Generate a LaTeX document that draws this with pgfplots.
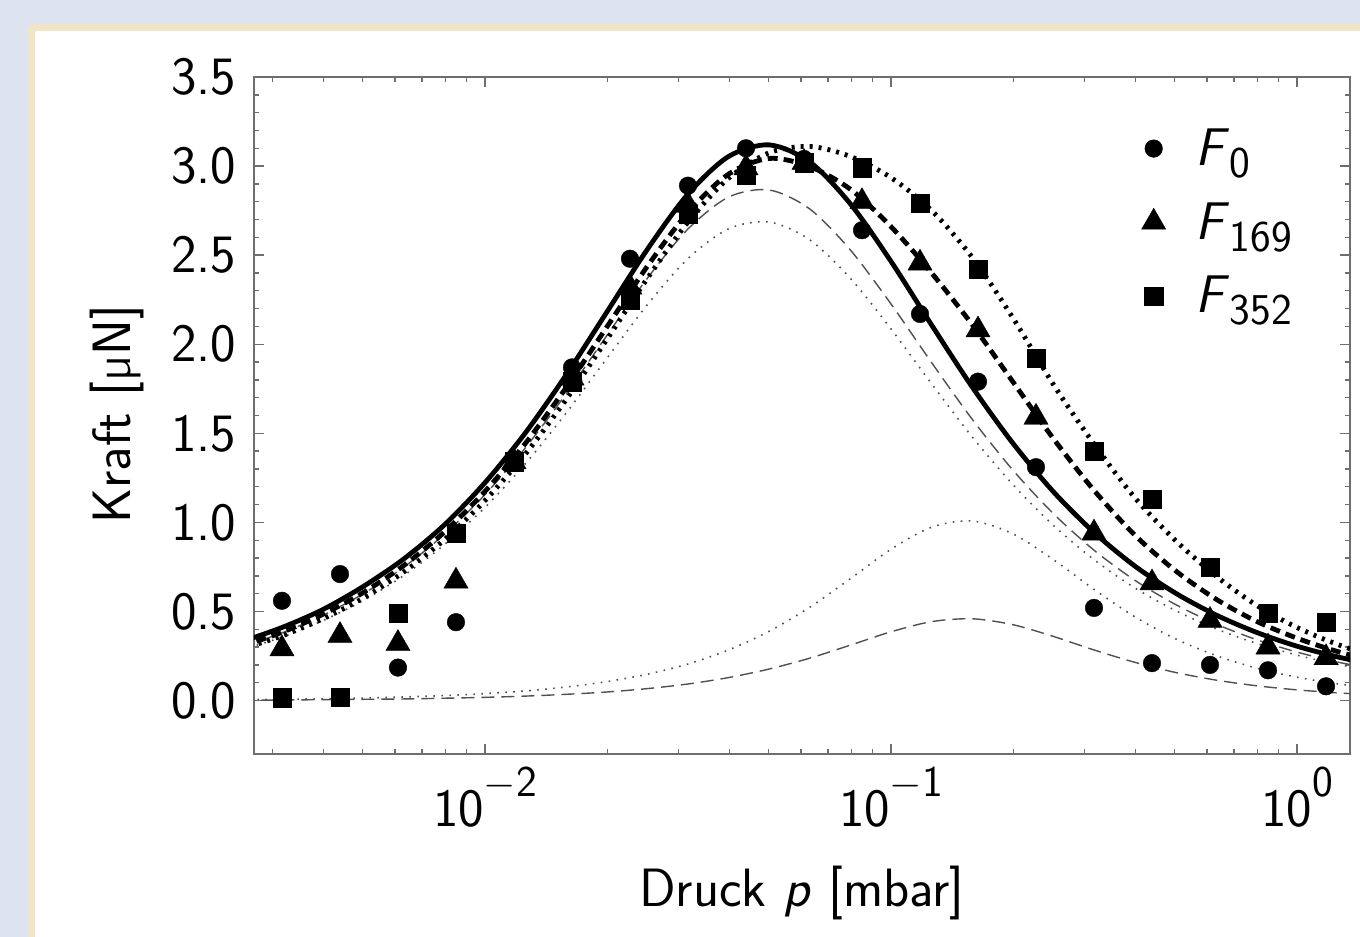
\documentclass[border=0pt]{standalone}
\usepackage{fontspec}
\usepackage{pgfplots}
\usepackage{pgfplotstable}
\pgfplotsset{compat=1.18}
\renewcommand{\familydefault}{\sfdefault}

\definecolor{bgblue}{HTML}{DEE3F0}
\definecolor{framebeige}{HTML}{F0E5C4}
\definecolor{axgray}{HTML}{6E6E6E}
\definecolor{thingray}{HTML}{505050}

% measured points, F in uN
\pgfplotstableread{
p         f0     f169   f352
0.003162  0.56   0.29   0.017
0.004394  0.71   0.365  0.02
0.006105  0.185  0.32   0.49
0.008483  0.44   0.67   0.94
0.011788  1.35   1.34   1.34
0.016379  1.87   1.81   1.79
0.022758  2.48   2.32   2.25
0.031623  2.89   2.78   2.73
0.043940  3.10   2.99   2.95
0.061054  3.04   3.02   3.02
0.084834  2.64   2.80   2.99
0.117877  2.17   2.455  2.79
0.163789  1.79   2.08   2.42
0.227585  1.31   1.59   1.92
0.316228  0.52   0.94   1.40
0.439397  0.21   0.66   1.13
0.610540  0.20   0.45   0.75
0.848343  0.17   0.30   0.49
1.178769  0.08   0.24   0.44
}\points

% fitted curves
\pgfplotstableread{
p          S      D      T      Dt     Tt     Dl     Tl
0.0025119  0.330  0.304  0.289  0.302  0.284  0.002  0.005
0.0031623  0.410  0.383  0.363  0.380  0.356  0.003  0.007
0.0039811  0.510  0.483  0.458  0.478  0.448  0.005  0.010
0.0050119  0.640  0.606  0.575  0.599  0.561  0.007  0.014
0.0063096  0.795  0.758  0.722  0.749  0.702  0.009  0.020
0.0079433  0.986  0.946  0.903  0.933  0.875  0.013  0.028
0.01       1.223  1.174  1.123  1.156  1.084  0.018  0.039
0.012589   1.504  1.445  1.385  1.420  1.331  0.025  0.054
0.015849   1.828  1.757  1.690  1.722  1.614  0.035  0.076
0.019953   2.180  2.096  2.026  2.048  1.920  0.048  0.106
0.025119   2.533  2.438  2.370  2.371  2.222  0.067  0.148
0.031623   2.843  2.740  2.686  2.647  2.481  0.093  0.205
0.039811   3.054  2.955  2.932  2.826  2.648  0.129  0.284
0.050119   3.119  3.043  3.075  2.866  2.686  0.177  0.389
0.063096   3.023  2.997  3.110  2.759  2.586  0.238  0.524
0.079433   2.788  2.870  3.054  2.529  2.370  0.311  0.684
0.1        2.465  2.660  2.935  2.226  2.086  0.386  0.849
0.12589    2.108  2.400  2.751  1.897  1.778  0.443  0.973
0.15849    1.760  2.110  2.488  1.579  1.480  0.459  1.008
0.19953    1.445  1.790  2.149  1.294  1.213  0.426  0.936
0.25119    1.172  1.470  1.774  1.049  0.983  0.360  0.791
0.31623    0.944  1.180  1.440  0.844  0.791  0.284  0.624
0.39811    0.756  0.930  1.140  0.676  0.633  0.215  0.471
0.50119    0.604  0.730  0.900  0.540  0.506  0.158  0.347
0.63096    0.481  0.570  0.700  0.430  0.403  0.115  0.253
0.79433    0.383  0.445  0.535  0.342  0.321  0.083  0.182
1.0        0.305  0.350  0.410  0.272  0.255  0.060  0.131
1.2589     0.245  0.275  0.315  0.216  0.203  0.043  0.094
1.5849     0.196  0.215  0.240  0.172  0.161  0.031  0.067
}\curves

\newcommand{\tp}[1]{10\raisebox{0.55em}{\fontsize{22}{26}\selectfont$-$#1}}
\newcommand{\tpz}{10\raisebox{0.55em}{\fontsize{22}{26}\selectfont 0}}
\newcommand{\Fsub}[1]{\textit{F}\raisebox{-6pt}{\fontsize{22}{26}\selectfont #1}}

\begin{document}
\begin{tikzpicture}
\useasboundingbox (0,0) rectangle (680pt,468.5pt);
\clip (0,0) rectangle (680pt,468.5pt);
\fill[bgblue] (0,0) rectangle (680pt,468.5pt);
\fill[framebeige, rounded corners=3pt] (14pt,-10pt) rectangle (690pt,456.5pt);
\fill[white, rounded corners=1pt] (17.5pt,-10pt) rectangle (690pt,453pt);

\begin{axis}[
    at={(127pt,91.5pt)}, anchor=south west,
    scale only axis, width=548pt, height=338.5pt,
    xmode=log, xmin=0.002698, xmax=1.3505,
    ymin=-0.3, ymax=3.5,
    xtick={0.01,0.1,1},
    xticklabels={\tp{2},\tp{1},\tpz},
    minor xtick={0.003,0.004,0.005,0.006,0.007,0.008,0.009,
                 0.02,0.03,0.04,0.05,0.06,0.07,0.08,0.09,
                 0.2,0.3,0.4,0.5,0.6,0.7,0.8,0.9},
    ytick={0,0.5,1,1.5,2,2.5,3,3.5},
    yticklabels={0.0,0.5,1.0,1.5,2.0,2.5,3.0,3.5},
    minor y tick num=4,
    tick align=inside,
    major tick length=5pt, minor tick length=2.5pt,
    tick style={axgray, line width=0.7pt},
    axis line style={axgray, line width=1pt},
    tick label style={font=\fontsize{27}{32}\selectfont},
    xticklabel style={yshift=-3pt},
    yticklabel style={xshift=-5.5pt},
    label style={font=\fontsize{27}{32}\selectfont},
    xlabel={Druck \textit{p} [mbar]},
    ylabel={Kraft [µN]},
    xlabel style={at={(axis description cs:0.5,-0.205)}, anchor=center},
    ylabel style={at={(axis description cs:-0.125,0.502)}, anchor=center},
    legend style={at={(axis description cs:0.804,0.936)}, anchor=north west,
        draw=none, fill=none, font=\fontsize{26.5}{30}\selectfont,
        row sep=13pt, column sep=13pt},
    legend cell align=left,
]
% component curves
\addplot[thingray, line width=0.7pt, dash pattern=on 6.5pt off 3.5pt, smooth, forget plot] table[x=p,y=Dt] {\curves};
\addplot[thingray, line width=0.8pt, dash pattern=on 0.8pt off 3.2pt, smooth, forget plot] table[x=p,y=Tt] {\curves};
\addplot[thingray, line width=0.7pt, dash pattern=on 6.5pt off 3.5pt, smooth, forget plot] table[x=p,y=Dl] {\curves};
\addplot[thingray, line width=0.8pt, dash pattern=on 0.8pt off 3.2pt, smooth, forget plot] table[x=p,y=Tl] {\curves};
% fits
\addplot[black, line width=2.4pt, smooth, forget plot] table[x=p,y=S] {\curves};
\addplot[black, line width=2.4pt, dash pattern=on 5pt off 3pt, smooth, forget plot] table[x=p,y=D] {\curves};
\addplot[black, line width=2.4pt, dash pattern=on 1.5pt off 3pt, smooth, forget plot] table[x=p,y=T] {\curves};
% data
\addplot[only marks, mark=*, mark size=4.4pt, mark options={fill=black, draw=black, line width=0.2pt}] table[x=p,y=f0] {\points};
\addplot[only marks, mark=triangle*, mark size=7pt, mark options={fill=black, draw=black, line width=0.2pt}] table[x=p,y=f169] {\points};
\addplot[only marks, mark=square*, mark size=4.6pt, mark options={fill=black, draw=black, line width=0.2pt}] table[x=p,y=f352] {\points};
\legend{\Fsub{0},\Fsub{169},\Fsub{352}}
\end{axis}
\end{tikzpicture}
\end{document}
